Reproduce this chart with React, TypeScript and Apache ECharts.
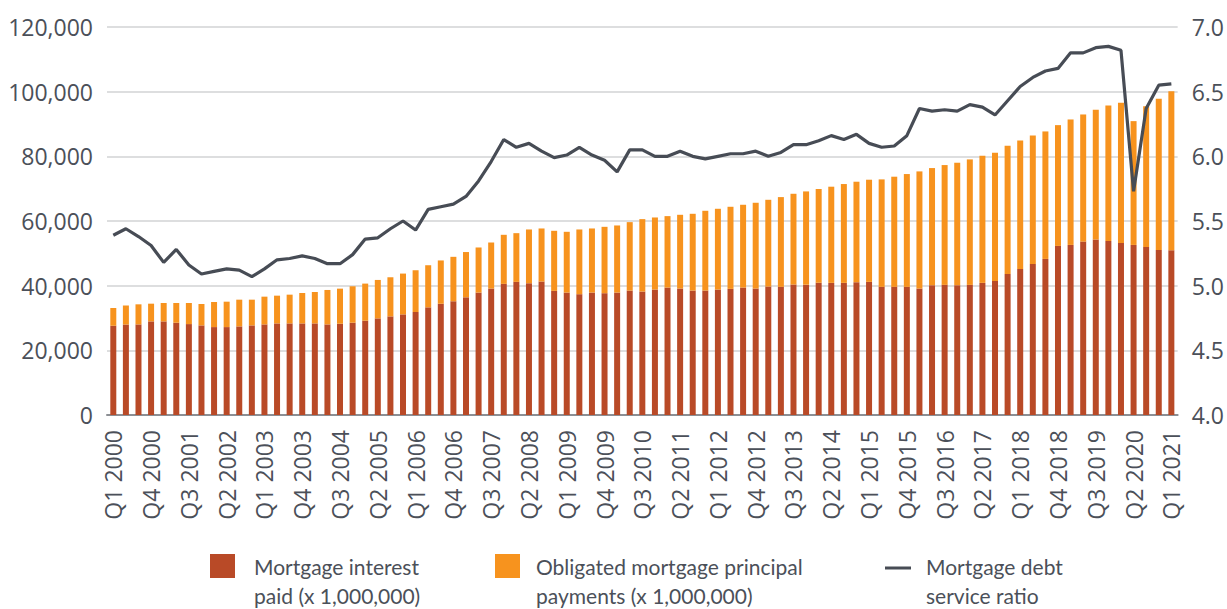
import React, { useEffect, useRef } from "react";
import * as echarts from "echarts";

const startYear = 2000;
const quarterCount = 85;
const categories: string[] = [];
for (let i = 0; i < quarterCount; i++) {
  categories.push(`Q${(i % 4) + 1} ${startYear + Math.floor(i / 4)}`);
}

const interestPaid = [
  27600, 28020, 28020, 28950, 28950, 28540, 28120, 27710, 27190, 27190,
  27400, 27710, 28020, 28330, 28330, 28330, 28330, 28020, 28230, 28540,
  29160, 29880, 30500, 31120, 31850, 33300, 34400, 35180, 36400, 37870,
  39110, 40560, 41180, 40760, 41280, 38390, 37870, 37360, 37870, 37670,
  37870, 38490, 38180, 38800, 39420, 39110, 38490, 38490, 38800, 39010,
  39420, 39110, 39730, 39630, 40350, 40300, 40900, 40860, 40860, 41070,
  41170, 39630, 39630, 39630, 39110, 40140, 40250, 40140, 40250, 40860,
  41480, 43640, 45190, 46730, 48270, 52290, 52600, 53630, 54240, 53830,
  53210, 52600, 51980, 51050, 50950,
];

const principalPayments = [
  5490, 5880, 6210, 5480, 5690, 6100, 6520, 6620, 7760, 7860,
  8270, 7960, 8580, 8580, 8890, 9410, 9720, 10650, 10850, 11270,
  11480, 11890, 12100, 12620, 12920, 13020, 13400, 13740, 14000, 13940,
  14240, 15170, 15060, 16620, 16410, 18580, 18790, 20020, 19820, 20530,
  20750, 21160, 22400, 22290, 22090, 22810, 23740, 24670, 24980, 25390,
  25600, 26530, 26830, 27760, 28070, 28850, 29000, 29750, 30570, 31080,
  31600, 33240, 34070, 34890, 36230, 36230, 37050, 37880, 38800, 39320,
  39630, 39630, 39730, 39730, 39430, 37360, 38800, 39320, 40150, 41900,
  43340, 38290, 43540, 46730, 49200,
];

const debtServiceRatio = [
  5.39, 5.44, 5.38, 5.31, 5.18, 5.28, 5.16, 5.09, 5.11, 5.13,
  5.12, 5.07, 5.13, 5.2, 5.21, 5.23, 5.21, 5.17, 5.17, 5.24,
  5.36, 5.37, 5.44, 5.5, 5.43, 5.59, 5.61, 5.63, 5.69, 5.81,
  5.96, 6.13, 6.07, 6.1, 6.04, 5.99, 6.01, 6.07, 6.01, 5.97,
  5.88, 6.05, 6.05, 6.0, 6.0, 6.04, 6.0, 5.98, 6.0, 6.02,
  6.02, 6.04, 6.0, 6.03, 6.09, 6.09, 6.12, 6.16, 6.13, 6.17,
  6.1, 6.07, 6.08, 6.16, 6.37, 6.35, 6.36, 6.35, 6.4, 6.38,
  6.32, 6.43, 6.54, 6.61, 6.66, 6.68, 6.8, 6.8, 6.84, 6.85,
  6.82, 5.73, 6.37, 6.55, 6.56,
];

const seriesNames = [
  "Mortgage interest\npaid (x 1,000,000)",
  "Obligated mortgage principal\npayments (x 1,000,000)",
  "Mortgage debt\nservice ratio",
];

const RED = "#b94a27";
const ORANGE = "#f7931e";
const LINE = "#474c55";
const TEXT = "#4b5059";
const FONT = "'Open Sans', sans-serif";
const LEGEND_FONT = "Lato, sans-serif";

export default function App() {
  const ref = useRef<HTMLDivElement>(null);

  useEffect(() => {
    if (!ref.current) return;
    const chart = echarts.init(ref.current, undefined, { renderer: "svg" });
    const legendText = (x: number, text: string) => ({
      type: "text",
      x,
      y: 552,
      style: {
        text,
        fill: TEXT,
        font: `21px ${LEGEND_FONT}`,
        lineHeight: 29,
        verticalAlign: "top",
        align: "left",
      },
    });
    chart.setOption({
      animation: false,
      backgroundColor: "#ffffff",
      grid: { left: 107, right: 47, top: 27, bottom: 194 },
      xAxis: {
        type: "category",
        data: categories,
        axisTick: { show: false },
        axisLine: { show: true, lineStyle: { color: "#8c8f94", width: 2 } },
        axisLabel: {
          rotate: 90,
          interval: 2,
          margin: 15,
          color: TEXT,
          fontFamily: FONT,
          fontSize: 23,
        },
      },
      yAxis: [
        {
          type: "value",
          min: 0,
          max: 120000,
          interval: 20000,
          axisLine: { show: false },
          axisTick: { show: false },
          splitLine: { lineStyle: { color: "#d2d3d5", width: 1.5 } },
          axisLabel: {
            margin: 14,
            color: TEXT,
            fontFamily: FONT,
            fontSize: 23,
            formatter: (v: number) => v.toLocaleString("en-US"),
          },
        },
        {
          type: "value",
          min: 4,
          max: 7,
          interval: 0.5,
          axisLine: { show: false },
          axisTick: { show: false },
          splitLine: { show: false },
          axisLabel: {
            margin: 14,
            color: TEXT,
            fontFamily: FONT,
            fontSize: 23,
            formatter: (v: number) => v.toFixed(1),
          },
        },
      ],
      series: [
        {
          name: seriesNames[0],
          type: "bar",
          stack: "total",
          data: interestPaid,
          barWidth: 6,
          itemStyle: { color: RED },
        },
        {
          name: seriesNames[1],
          type: "bar",
          stack: "total",
          data: principalPayments,
          barWidth: 6,
          itemStyle: { color: ORANGE },
        },
        {
          name: seriesNames[2],
          type: "line",
          yAxisIndex: 1,
          data: debtServiceRatio,
          symbol: "none",
          z: 5,
          lineStyle: { color: LINE, width: 3.2 },
          itemStyle: { color: LINE },
        },
      ],
      graphic: [
        { type: "rect", shape: { x: 210, y: 554, width: 25, height: 24 }, style: { fill: RED } },
        legendText(254, seriesNames[0]),
        { type: "rect", shape: { x: 495, y: 554, width: 25, height: 24 }, style: { fill: ORANGE } },
        legendText(536, seriesNames[1]),
        {
          type: "line",
          shape: { x1: 885, y1: 568, x2: 911, y2: 568 },
          style: { stroke: LINE, lineWidth: 3 },
        },
        legendText(926, seriesNames[2]),
      ],
    });
    return () => chart.dispose();
  }, []);

  return (
    <div
      ref={ref}
      style={{ position: "absolute", left: 0, top: 0, width: 1227, height: 609 }}
    />
  );
}
